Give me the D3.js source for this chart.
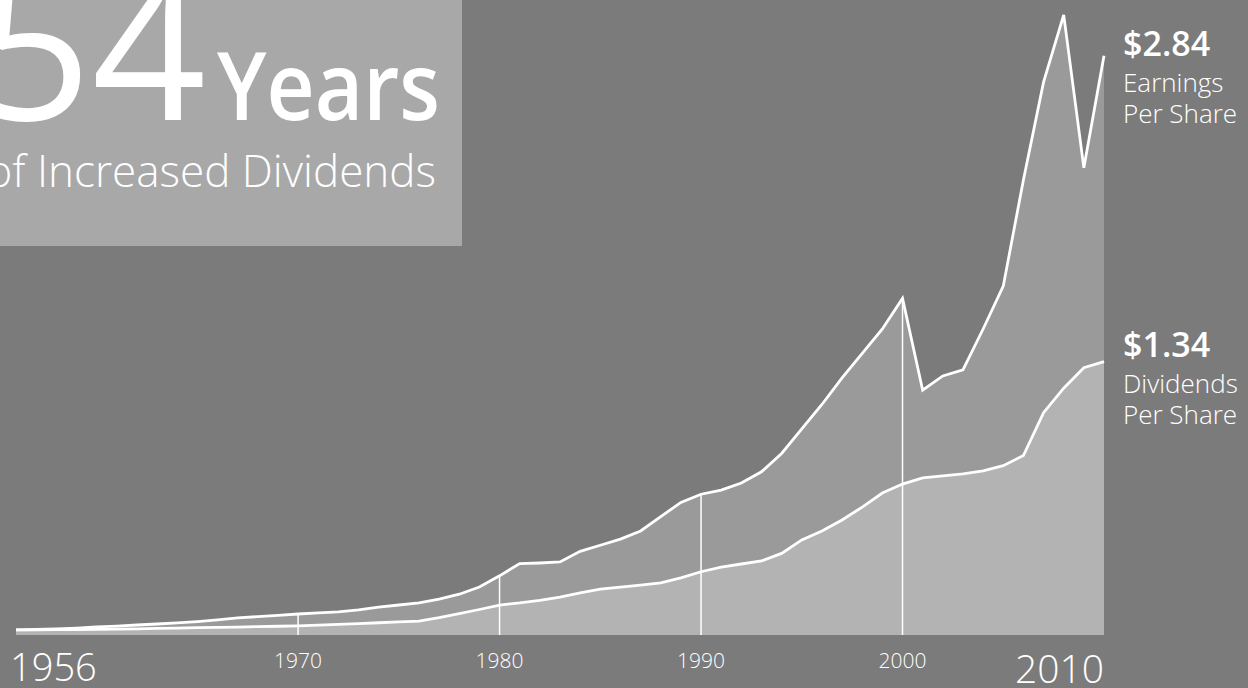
<!DOCTYPE html>
<html>
<head>
<meta charset="utf-8">
<script src="https://cdn.jsdelivr.net/npm/d3@7"></script>
<style>
  body { margin: 0; background: #7b7b7b; overflow: hidden; }
  text { font-family: "Open Sans", "Noto Sans", sans-serif; fill: #fff; }
</style>
</head>
<body>
<div id="chart"></div>
<script>
// data
const years = [1956,1957,1958,1959,1960,1961,1962,1963,1964,1965,1966,1967,1968,1969,
  1970,1971,1972,1973,1974,1975,1976,1977,1978,1979,1980,1981,1982,1983,1984,1985,
  1986,1987,1988,1989,1990,1991,1992,1993,1994,1995,1996,1997,1998,1999,2000,2001,
  2002,2003,2004,2005,2006,2007,2008,2009,2010];
const earnings = [0.025,0.027,0.030,0.034,0.040,0.044,0.049,0.054,0.059,0.066,0.074,0.084,0.090,0.096,
  0.103,0.108,0.113,0.123,0.137,0.147,0.157,0.176,0.200,0.235,0.290,0.350,0.353,0.358,0.410,0.440,
  0.470,0.510,0.580,0.650,0.690,0.710,0.745,0.800,0.890,1.010,1.130,1.260,1.380,1.500,1.650,1.200,
  1.270,1.300,1.500,1.710,2.230,2.710,3.040,2.290,2.840];
const dividends = [0.025,0.025,0.026,0.027,0.028,0.029,0.030,0.032,0.034,0.036,0.037,0.039,0.041,0.043,
  0.045,0.048,0.052,0.056,0.060,0.064,0.068,0.085,0.105,0.125,0.147,0.157,0.170,0.186,0.206,0.225,
  0.235,0.245,0.255,0.280,0.310,0.333,0.348,0.363,0.400,0.466,0.510,0.564,0.627,0.696,0.740,0.770,
  0.780,0.790,0.805,0.830,0.880,1.090,1.210,1.310,1.340];
const decadeYears = [1970, 1980, 1990, 2000];
const smallLabels = ["1970", "1980", "1990", "2000"];

const width = 1248, height = 688;
const baseY = 635;

const svg = d3.select("#chart")
  .append("svg")
    .attr("width", width)
    .attr("height", height);

svg.append("rect")
  .attr("width", width).attr("height", height)
  .attr("fill", "#7b7b7b");

const x = d3.scaleLinear().domain([1956, 2010]).range([16, 1104]);
const y = d3.scaleLinear().domain([0, 3]).range([baseY, baseY - 3 * 204]);

const data = years.map((yr, i) => ({year: yr, eps: earnings[i], div: dividends[i]}));

// earnings area
svg.append("path")
  .datum(data)
  .attr("fill", "#9a9a9a")
  .attr("d", d3.area().x(d => x(d.year)).y0(baseY).y1(d => y(d.eps)));

// dividends area
svg.append("path")
  .datum(data)
  .attr("fill", "#b3b3b3")
  .attr("d", d3.area().x(d => x(d.year)).y0(baseY).y1(d => y(d.div)));

// decade markers, up to the earnings line
svg.selectAll(".decade")
  .data(decadeYears)
  .join("line")
    .attr("class", "decade")
    .attr("x1", d => x(d)).attr("x2", d => x(d))
    .attr("y1", baseY)
    .attr("y2", d => y(earnings[years.indexOf(d)]))
    .attr("stroke", "#fff")
    .attr("stroke-width", 1.5);

// lines
svg.append("path")
  .datum(data)
  .attr("fill", "none")
  .attr("stroke", "#fff")
  .attr("stroke-width", 2.8)
  .attr("d", d3.line().x(d => x(d.year)).y(d => y(d.eps)));

svg.append("path")
  .datum(data)
  .attr("fill", "none")
  .attr("stroke", "#fff")
  .attr("stroke-width", 2.8)
  .attr("d", d3.line().x(d => x(d.year)).y(d => y(d.div)));

// year labels
svg.selectAll(".yr")
  .data(decadeYears)
  .join("text")
    .attr("class", "yr")
    .attr("x", d => x(d))
    .attr("y", 668)
    .attr("text-anchor", "middle")
    .attr("font-size", 21)
    .attr("font-weight", 300)
    .text((d, i) => smallLabels[i]);

svg.append("text")
  .attr("x", 10).attr("y", 681)
  .attr("font-size", 38)
  .attr("font-weight", 300)
  .text("1956");

svg.append("text")
  .attr("x", x(2010)).attr("y", 683)
  .attr("text-anchor", "end")
  .attr("font-size", 39)
  .attr("font-weight", 300)
  .text("2010");

// end labels
const endLabel = (val, y0, l1, l2) => {
  svg.append("text").attr("x", 1123).attr("y", y0)
    .attr("font-size", 34).attr("font-weight", 600).text(val);
  svg.append("text").attr("x", 1123).attr("y", y0 + 36)
    .attr("font-size", 26).attr("font-weight", 300).text(l1);
  svg.append("text").attr("x", 1123).attr("y", y0 + 67)
    .attr("font-size", 26).attr("font-weight", 300).text(l2);
};
endLabel("$2.84", 56, "Earnings", "Per Share");
endLabel("$1.34", 357, "Dividends", "Per Share");

// title box
svg.append("rect")
  .attr("x", 0).attr("y", 0)
  .attr("width", 462).attr("height", 246)
  .attr("fill", "#a8a8a8");

svg.append("text")
  .attr("x", 206).attr("y", 120)
  .attr("text-anchor", "end")
  .attr("font-size", 200)
  .attr("font-weight", 400)
  .text("54");

svg.append("text")
  .attr("x", 217).attr("y", 120)
  .attr("font-size", 94)
  .attr("font-weight", 600)
  .attr("textLength", 223)
  .attr("lengthAdjust", "spacingAndGlyphs")
  .text("Years");

svg.append("text")
  .attr("x", 436).attr("y", 187)
  .attr("text-anchor", "end")
  .attr("font-size", 44)
  .attr("font-weight", 300)
  .text("of Increased Dividends");
</script>
</body>
</html>
